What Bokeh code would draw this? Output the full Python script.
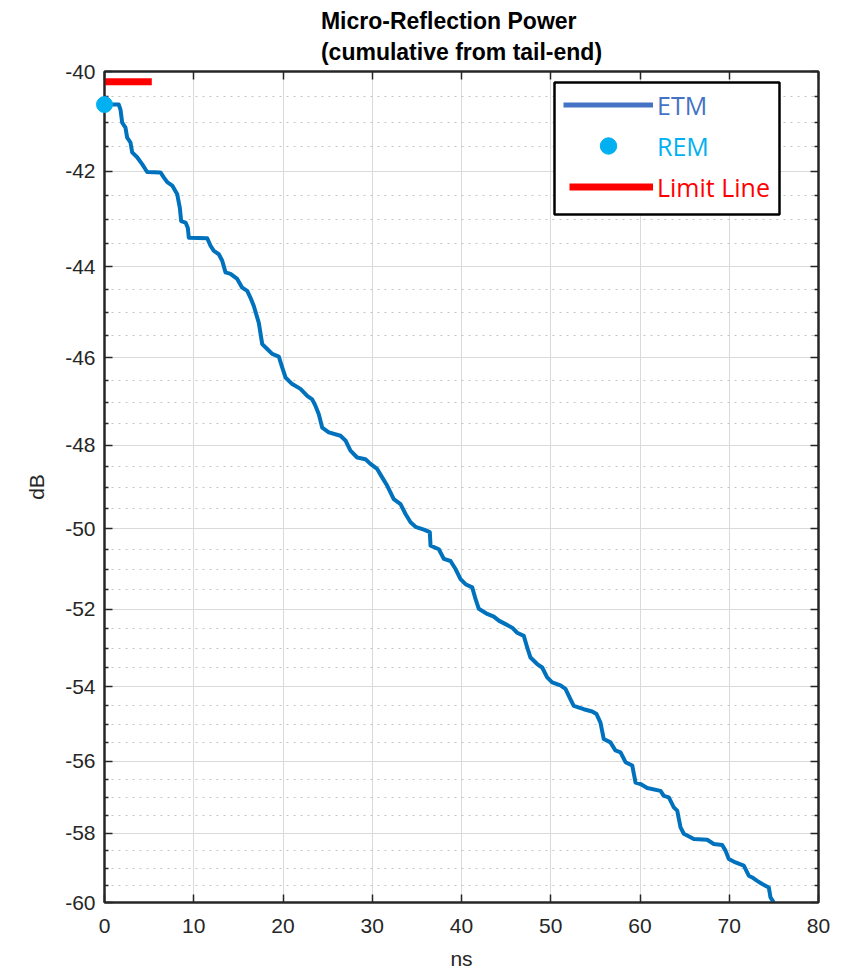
from bokeh.plotting import figure
from bokeh.models import (Range1d, FixedTicker, LinearAxis, LogAxis, Legend, LegendItem,
                          BoxAnnotation, CustomJSTickFormatter)
from bokeh.embed import file_html
from bokeh.resources import INLINE

# ---------------- data ----------------
etm_ns = [0.0, 1.6, 1.79, 1.98, 2.35, 2.54, 2.91, 3.1, 3.66, 4.22, 4.78, 6.27, 6.64, 7.03, 7.59,
          8.15, 8.44, 8.59, 9.08, 9.33, 9.45, 11.51, 11.88, 12.25, 12.81, 13.19, 13.56, 14.12,
          14.87, 15.43, 15.99, 16.36, 16.73, 17.29, 17.67, 18.23, 18.79, 19.53, 19.91, 20.28,
          21.03, 21.96, 22.71, 23.27, 23.64, 24.01, 24.39, 25.13, 26.44, 27.0, 27.56, 28.31,
          29.24, 29.8, 30.55, 31.11, 31.68, 32.41, 33.17, 33.73, 34.29, 34.85, 35.78, 36.45,
          36.53, 37.46, 38.02, 38.77, 39.33, 39.89, 40.45, 41.2, 41.57, 41.94, 42.88, 43.62,
          44.18, 44.93, 45.68, 46.24, 46.98, 47.36, 47.73, 48.48, 49.04, 49.6, 50.16, 51.09,
          51.65, 52.2, 52.58, 53.7, 54.64, 55.13, 55.57, 55.94, 56.69, 57.25, 57.82, 58.38,
          59.13, 59.5, 60.06, 60.81, 62.3, 62.67, 63.23, 63.79, 64.17, 64.54, 64.91, 66.03,
          67.53, 68.27, 69.21, 69.58, 69.95, 70.7, 71.63, 72.19, 72.57, 73.13, 73.69, 74.43,
          74.62, 75.0]
etm_db = [-40.65, -40.65, -40.75, -41.01, -41.11, -41.31, -41.41, -41.61, -41.71, -41.85, -42.01,
          -42.02, -42.12, -42.22, -42.29, -42.47, -42.75, -43.03, -43.06, -43.17, -43.38, -43.39,
          -43.55, -43.66, -43.73, -43.87, -44.12, -44.15, -44.26, -44.45, -44.52, -44.67, -44.85,
          -45.22, -45.69, -45.80, -45.91, -45.97, -46.21, -46.44, -46.59, -46.70, -46.86, -46.94,
          -47.09, -47.28, -47.59, -47.70, -47.78, -47.89, -48.13, -48.29, -48.33, -48.44, -48.56,
          -48.76, -48.96, -49.28, -49.40, -49.64, -49.84, -49.95, -50.02, -50.08, -50.41, -50.50,
          -50.74, -50.79, -50.99, -51.24, -51.37, -51.45, -51.74, -51.99, -52.12, -52.19, -52.29,
          -52.38, -52.47, -52.60, -52.68, -52.98, -53.24, -53.41, -53.50, -53.76, -53.89, -53.97,
          -54.06, -54.33, -54.51, -54.60, -54.66, -54.73, -54.96, -55.40, -55.49, -55.71, -55.76,
          -56.03, -56.12, -56.59, -56.63, -56.74, -56.82, -56.96, -57.00, -57.28, -57.37, -57.84,
          -58.02, -58.17, -58.19, -58.31, -58.34, -58.50, -58.74, -58.84, -58.93, -59.22, -59.27,
          -59.37, -59.46, -59.56, -59.85, -60.0]
rem_ns = [0.0]
rem_db = [-40.65]
limit_ns = [0.0, 5.3]
limit_db = [-40.2, -40.2]

x_ticks = [0, 10, 20, 30, 40, 50, 60, 70, 80]
y_ticks_db = [-40, -42, -44, -46, -48, -50, -52, -54, -56, -58, -60]
y_minor_step_db = 0.5

# The dB axis is logarithmic in magnitude (as in the reference); plot |dB| on a flipped log scale
etm_mag = [-v for v in etm_db]
rem_mag = [-v for v in rem_db]
limit_mag = [-v for v in limit_db]
y_ticks_mag = [-v for v in y_ticks_db]
n_minor = int(round((y_ticks_mag[-1] - y_ticks_mag[0]) / y_minor_step_db))
y_minor_mag = [y_ticks_mag[0] + i * y_minor_step_db for i in range(n_minor + 1)
               if (i * y_minor_step_db) % 2 != 0]

AX = "#262626"
FONT = "Liberation Sans"

p = figure(width=851, height=972, x_range=Range1d(0, 80),
           y_range=Range1d(y_ticks_mag[-1], y_ticks_mag[0]), y_axis_type="log",
           output_backend="svg", toolbar_location=None,
           min_border_left=104, min_border_right=33, min_border_top=71, min_border_bottom=69)
p.background_fill_color = "white"
p.border_fill_color = "white"
p.outline_line_color = AX
p.outline_line_width = 2

p.title.text = "Micro-Reflection Power\n(cumulative from tail-end)"
p.title.align = "center"
p.title.text_font = FONT
p.title.text_font_size = "23px"
p.title.text_font_style = "bold"
p.title.text_color = "black"
p.title.text_line_height = 1.2
p.title.standoff = 12

def style_axis(ax, minor=True):
    ax.axis_line_color = AX
    ax.axis_line_width = 2
    ax.major_tick_line_color = AX
    ax.major_tick_line_width = 1.5
    ax.major_tick_in = 8
    ax.major_tick_out = 0
    ax.minor_tick_line_color = AX if minor else None
    ax.minor_tick_line_width = 1.5
    ax.minor_tick_in = 4
    ax.minor_tick_out = 0
    ax.major_label_text_font = FONT
    ax.major_label_text_font_size = "21px"
    ax.major_label_text_color = AX
    ax.major_label_text_line_height = 1.0
    ax.axis_label_text_font = FONT
    ax.axis_label_text_font_size = "21px"
    ax.axis_label_text_font_style = "normal"
    ax.axis_label_text_color = AX
    ax.axis_label_text_line_height = 1.0

xt = FixedTicker(ticks=x_ticks, minor_ticks=[])
yt = FixedTicker(ticks=y_ticks_mag, minor_ticks=y_minor_mag)

xa = p.xaxis[0]
xa.ticker = xt
xa.axis_label = "ns"
xa.major_label_standoff = 16
xa.axis_label_standoff = 11
style_axis(xa, minor=False)

ya = p.yaxis[0]
ya.ticker = yt
ya.formatter = CustomJSTickFormatter(code="return '-' + tick.toFixed(0)")
ya.axis_label = "dB"
ya.major_label_standoff = 9
ya.axis_label_standoff = 14
style_axis(ya)

top = LinearAxis(ticker=xt, formatter=CustomJSTickFormatter(code="return ''"),
                 major_label_standoff=0)
style_axis(top, minor=False)
p.add_layout(top, "above")

right = LogAxis(ticker=yt, formatter=CustomJSTickFormatter(code="return ''"),
                major_label_standoff=0)
style_axis(right)
p.add_layout(right, "right")

p.xgrid.ticker = xt
p.xgrid.grid_line_color = "#dadada"
p.xgrid.grid_line_width = 1
p.ygrid.grid_line_color = "#dadada"
p.ygrid.grid_line_width = 1
p.ygrid.minor_grid_line_color = "#c4c4c4"
p.ygrid.minor_grid_line_dash = "2 5"
p.ygrid.minor_grid_line_width = 1

# ---------------- glyphs ----------------
etm_r = p.line(etm_ns, etm_mag, line_color="#0072BD", line_width=4, line_join="round")
limit_r = p.line(limit_ns, limit_mag, line_color="#FF0000", line_width=7)
rem_r = p.scatter(rem_ns, rem_mag, size=16, fill_color="#00B0F0", line_color="#00B0F0",
                  level="overlay")
etm_key = p.line(etm_ns, etm_mag, line_color="#4472C4", line_width=5, visible=False)

# ---------------- legend ----------------
box = BoxAnnotation(left=50.42, right=75.63, top=40.215, bottom=42.89,
                    fill_color="white", fill_alpha=1.0,
                    line_color="black", line_alpha=1.0, line_width=2.5)
p.add_layout(box)

def add_key(label, renderer, loc, glyph_w, color):
    lg = Legend(items=[LegendItem(label=label, renderers=[renderer])], location=loc,
                orientation="vertical", padding=0, margin=0, spacing=0,
                glyph_width=glyph_w, glyph_height=41, label_height=41, label_standoff=4,
                label_text_color=color, label_text_font="Open Sans",
                label_text_font_size="25px", background_fill_alpha=0,
                border_line_alpha=0)
    p.add_layout(lg)

add_key("ETM", etm_key, (459, 777), 90, "#4472C4")
add_key("REM", rem_r, (459, 736), 90, "#00B0F0")
add_key("Limit Line", limit_r, (465, 695), 84, "#FF0000")

open("out.html", "w").write(file_html(p, INLINE))
